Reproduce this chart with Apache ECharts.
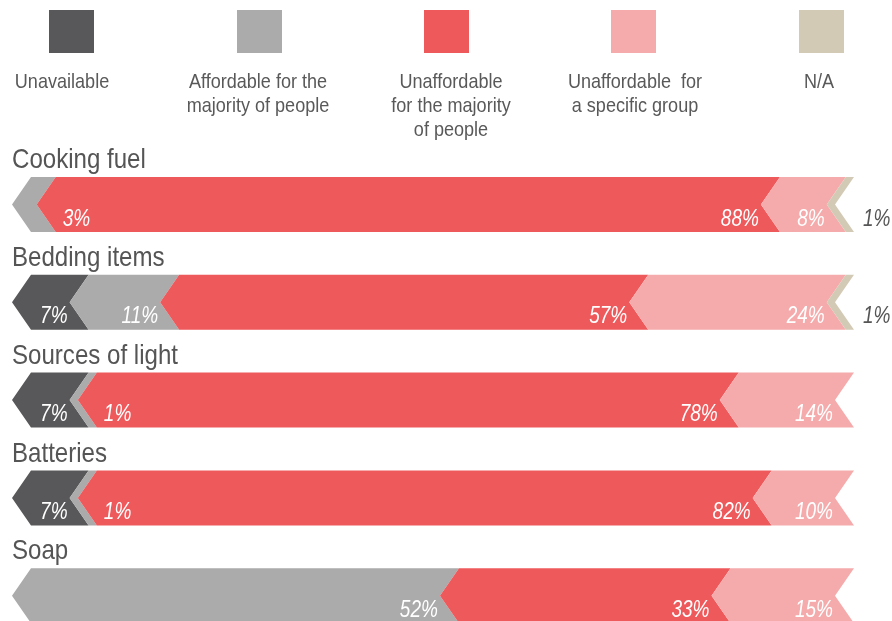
<!DOCTYPE html>
<html>
<head>
<meta charset="utf-8">
<script src="https://cdn.jsdelivr.net/npm/echarts@6/dist/echarts.min.js"></script>
<style>
  html, body { margin: 0; padding: 0; background: #ffffff; }
  #chart { width: 892px; height: 621px; }
</style>
</head>
<body>
<div id="chart"></div>
<script>
// Item categories, top to bottom
const categories = ['Cooking fuel', 'Bedding items', 'Sources of light', 'Batteries', 'Soap'];

// Share of answers (%) per category
const unavailable          = [0, 7, 7, 7, 0];
const affordableMajority   = [3, 11, 1, 1, 52];
const unaffordableMajority = [88, 57, 78, 82, 33];
const unaffordableGroup    = [8, 24, 14, 10, 15];
const notApplicable        = [1, 1, 0, 0, 0];

// Legend captions
const legendLabels = [
  'Unavailable',
  'Affordable for the\nmajority of people',
  'Unaffordable\nfor the majority\nof people',
  'Unaffordable  for\na specific group',
  'N/A'
];

const seriesValues = [unavailable, affordableMajority, unaffordableMajority, unaffordableGroup, notApplicable];
const colors = ['#58585a', '#ababab', '#ee595c', '#f5abab', '#d3cab6'];

const FONT = "'Liberation Sans', Arial, sans-serif";
const NARROW_TEXT = 0.86;   // horizontal squeeze for captions (condensed look)
const NARROW_LABEL = 0.81;  // horizontal squeeze for percentage labels
const BAR_PX = 55;          // bar thickness
const NOTCH = 19;           // chevron depth

// running start of each segment (stacking)
const starts = seriesValues.map(() => []);
categories.forEach((c, i) => {
  let acc = 0;
  seriesValues.forEach((vals, s) => {
    starts[s][i] = acc;
    acc += vals[i];
  });
});

function chevronItem(seriesIdx) {
  return function (params, api) {
    const idx = api.value(0);
    const start = api.value(1);
    const val = api.value(2);
    if (!val) return null;
    const p0 = api.coord([start, idx]);
    const p1 = api.coord([start + val, idx]);
    const cy = p0[1];
    const top = cy - BAR_PX / 2, bot = cy + BAR_PX / 2;
    const xs = p0[0], xe = p1[0], d = NOTCH;
    return {
      type: 'polygon',
      shape: { points: [[xs, cy], [xs + d, top], [xe + d, top], [xe, cy], [xe + d, bot], [xs + d, bot]] },
      style: { fill: colors[seriesIdx] }
    };
  };
}

const series = seriesValues.map((vals, s) => ({
  type: 'custom',
  name: legendLabels[s],
  z: 2,
  renderItem: chevronItem(s),
  encode: { x: [1, 2], y: 0 },
  data: vals.map((v, i) => [i, starts[s][i], v])
}));

// percentage labels, drawn above every bar segment
const labelData = [];
seriesValues.forEach((vals, s) => {
  vals.forEach((v, i) => { if (v) labelData.push([i, starts[s][i], v, s]); });
});
series.push({
  type: 'custom',
  name: 'labels',
  z: 3,
  renderItem: function (params, api) {
    const idx = api.value(0);
    const start = api.value(1);
    const val = api.value(2);
    const s = api.value(3);
    const p1 = api.coord([start + val, idx]);
    const xe = p1[0], cy = p1[1];
    let lx, align, fill = '#ffffff';
    if (s === 4) {                   // N/A: caption sits outside the bar
      lx = xe + 28; align = 'left'; fill = '#555555';
    } else if (val < 5) {            // thin slice: caption spills into the next slice
      lx = xe + 26; align = 'left';
    } else {
      lx = xe - 2; align = 'right';
    }
    return {
      type: 'text',
      x: lx, y: cy + 14.5, scaleX: NARROW_LABEL,
      style: {
        text: val + '%', x: 0, y: 0, align: align, verticalAlign: 'middle',
        fill: fill, font: 'italic 23.5px ' + FONT
      }
    };
  },
  encode: { x: 1, y: 0 },
  data: labelData
});

// category captions above each bar
series.push({
  type: 'custom',
  name: 'captions',
  z: 3,
  renderItem: function (params, api) {
    const idx = api.value(0);
    const p = api.coord([0, idx]);
    return {
      type: 'text',
      x: p[0], y: p[1] - 44, scaleX: NARROW_TEXT,
      style: {
        text: categories[idx], x: 0, y: 0, align: 'left', verticalAlign: 'middle',
        fill: '#555555', font: '28px ' + FONT
      }
    };
  },
  encode: { x: 1, y: 0 },
  data: categories.map((c, i) => [i, 0])
});

// legend swatches with captions underneath
const legendX = [49, 237, 424, 611, 799];
const legendTextX = [62, 258, 451, 635, 819];
const graphic = [];
colors.forEach((c, i) => {
  graphic.push({
    type: 'rect', left: legendX[i], top: 10,
    shape: { width: 45, height: 43 }, style: { fill: c }
  });
  graphic.push({
    type: 'text', x: legendTextX[i], y: 70, scaleX: NARROW_TEXT,
    style: {
      text: legendLabels[i], align: 'center', verticalAlign: 'top',
      lineHeight: 24, fill: '#595959', font: '21px ' + FONT
    }
  });
});

const chart = echarts.init(document.getElementById('chart'), null, { renderer: 'canvas' });
chart.setOption({
  animation: false,
  backgroundColor: '#ffffff',
  grid: { left: 12, top: 155.6, right: 57, bottom: 0, containLabel: false },
  xAxis: { type: 'value', min: 0, max: 100, show: false },
  // rows are 97.8px apart; the last band runs past the bottom edge
  yAxis: { type: 'value', inverse: true, min: -0.5, max: 4.259, show: false }, 
  graphic: graphic,
  series: series
});
</script>
</body>
</html>
